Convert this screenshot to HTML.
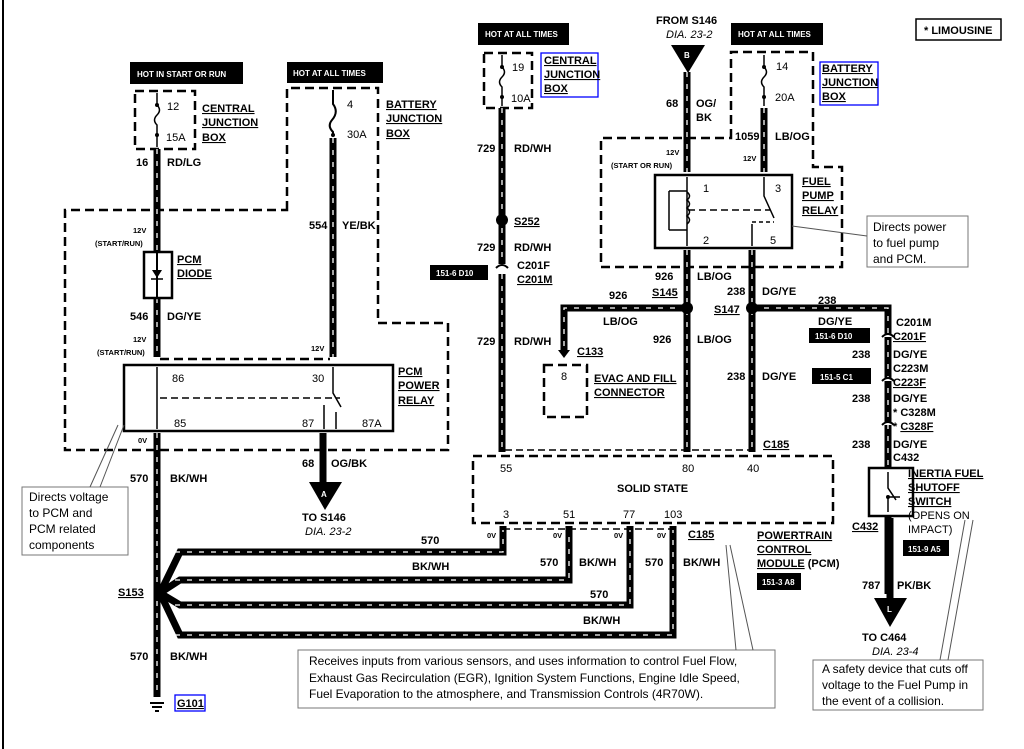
<!DOCTYPE html>
<html><head><meta charset="utf-8"><style>
html,body{margin:0;padding:0;background:#fff;}
svg{display:block;font-family:"Liberation Sans",sans-serif;}
.w{stroke:#000;stroke-width:7;fill:none;}
.wd{stroke:#fff;stroke-width:1.3;fill:none;stroke-dasharray:5 7;}
.d{stroke:#000;stroke-width:2.5;fill:none;stroke-dasharray:9 5;}
.t{font-size:11px;font-weight:bold;}
.n{font-size:11px;}
.s{font-size:7.5px;font-weight:bold;}
.lb{font-size:8px;font-weight:bold;fill:#fff;}
.c{font-size:12px;}
.u{text-decoration:underline;}
</style></head><body>
<svg width="1024" height="749" viewBox="0 0 1024 749" xmlns="http://www.w3.org/2000/svg">
<rect width="1024" height="749" fill="#fff"/>
<line x1="3" y1="0" x2="3" y2="749" stroke="#000" stroke-width="2"/>

<!-- LEFT SECTION -->
<rect x="130" y="62" width="113" height="22" fill="#000"/>
<text x="137" y="77" class="lb">HOT IN START OR RUN</text>
<rect x="287" y="62" width="96" height="21" fill="#000"/>
<text x="293" y="76" class="lb">HOT AT ALL TIMES</text>
<rect x="135" y="91" width="60" height="58" class="d"/>
<path d="M157 93 V105 q5 5 0 10 q-5 5 0 10 V147" stroke="#000" stroke-width="1.5" fill="none"/>
<circle cx="157" cy="105" r="2"/><circle cx="157" cy="135" r="2"/>
<text x="167" y="110" class="n">12</text><text x="166" y="141" class="n">15A</text>
<text x="202" y="112" class="t u">CENTRAL</text><text x="202" y="126" class="t u">JUNCTION</text><text x="202" y="141" class="t u">BOX</text>
<path d="M287 210 V88 H378 V323 H448 V450 H65 V210 Z" class="d"/>
<path d="M333 90 V104 q6 8 -1 16 q-5 6 1 12 V135" stroke="#000" stroke-width="2" fill="none"/>
<circle cx="333" cy="135" r="2"/>
<text x="347" y="108" class="n">4</text><text x="347" y="138" class="n">30A</text>
<text x="386" y="108" class="t u">BATTERY</text><text x="386" y="122" class="t u">JUNCTION</text><text x="386" y="137" class="t u">BOX</text>
<path d="M157 149 V252 M157 298 V357" class="w"/><path d="M157 149 V252 M157 298 V357" class="wd"/>
<path d="M333 138 V357" class="w"/><path d="M333 138 V357" class="wd"/>
<text x="136" y="166" class="t">16</text><text x="167" y="166" class="t">RD/LG</text>
<text x="309" y="229" class="t">554</text><text x="342" y="229" class="t">YE/BK</text>
<text x="133" y="233" class="s">12V</text><text x="95" y="246" class="s">(START/RUN)</text>
<rect x="144" y="252" width="28" height="46" fill="none" stroke="#000" stroke-width="2.5"/>
<line x1="157" y1="252" x2="157" y2="298" stroke="#000" stroke-width="2"/>
<path d="M152 270 h10 l-5 8 z"/><line x1="151" y1="279" x2="163" y2="279" stroke="#000" stroke-width="1.5"/>
<text x="177" y="263" class="t u">PCM</text><text x="177" y="277" class="t u">DIODE</text>
<text x="130" y="320" class="t">546</text><text x="167" y="320" class="t">DG/YE</text>
<text x="133" y="342" class="s">12V</text><text x="97" y="355" class="s">(START/RUN)</text>
<text x="311" y="351" class="s">12V</text>
<line x1="160" y1="359" x2="330" y2="359" class="d" stroke-width="2"/>
<rect x="124" y="365" width="269" height="66" fill="none" stroke="#000" stroke-width="2.5"/>
<path d="M157 367 V429 M333 367 V393 l8 14 M324 405 V429 M336 412 V429" stroke="#000" stroke-width="1.5" fill="none"/>
<line x1="160" y1="398" x2="340" y2="398" stroke="#000" stroke-width="1.5" stroke-dasharray="7 4"/>
<text x="172" y="382" class="n">86</text><text x="312" y="382" class="n">30</text>
<text x="174" y="427" class="n">85</text><text x="302" y="427" class="n">87</text><text x="362" y="427" class="n">87A</text>
<text x="398" y="375" class="t u">PCM</text><text x="398" y="389" class="t u">POWER</text><text x="398" y="404" class="t u">RELAY</text>
<text x="138" y="443" class="s">0V</text>
<path d="M157 433 V697" class="w"/><path d="M157 433 V697" class="wd"/>
<path d="M323 433 V484" class="w"/>
<path d="M309 482 H342 L325 510 Z"/><text x="321" y="497" class="lb">A</text>
<text x="302" y="467" class="t">68</text><text x="331" y="467" class="t">OG/BK</text>
<text x="302" y="521" class="t">TO S146</text><text x="305" y="535" class="n" font-style="italic">DIA. 23-2</text>
<text x="130" y="482" class="t">570</text><text x="170" y="482" class="t">BK/WH</text>
<text x="118" y="596" class="t u">S153</text>
<text x="130" y="660" class="t">570</text><text x="170" y="660" class="t">BK/WH</text>
<path d="M150 703 h14 M152 707 h10 M155 711 h4" stroke="#000" stroke-width="2"/>
<rect x="175" y="695" width="30" height="16" fill="none" stroke="#00f" stroke-width="1.3"/>
<text x="177" y="707" class="t u">G101</text>
<rect x="22" y="487" width="106" height="68" fill="#fff" stroke="#777"/>
<path d="M90 487 L118 425 M100 487 L124 425" stroke="#555" stroke-width="1"/>
<text x="29" y="501" class="c">Directs voltage</text><text x="29" y="517" class="c">to PCM and</text><text x="29" y="533" class="c">PCM related</text><text x="29" y="549" class="c">components</text>

<!-- GROUND FAN -->
<path d="M160 593 L180 552 H503 V526 M160 593 L180 580 H569 V526 M160 593 L180 605 H630 V526 M160 593 L180 635 H673 V526" class="w"/>
<path d="M175 552 H503 V530 M175 580 H569 V530 M175 605 H630 V530 M175 635 H673 V530" class="wd"/>
<circle cx="160" cy="593" r="6"/>
<text x="487" y="538" class="s">0V</text><text x="553" y="538" class="s">0V</text><text x="614" y="538" class="s">0V</text><text x="657" y="538" class="s">0V</text>
<text x="421" y="544" class="t">570</text><text x="412" y="570" class="t">BK/WH</text>
<text x="540" y="566" class="t">570</text><text x="579" y="566" class="t">BK/WH</text>
<text x="645" y="566" class="t">570</text><text x="683" y="566" class="t">BK/WH</text>
<text x="590" y="598" class="t">570</text><text x="583" y="624" class="t">BK/WH</text>
<text x="688" y="538" class="t u">C185</text>

<!-- PCM -->
<rect x="473" y="456" width="360" height="67" class="d"/>
<line x1="503" y1="529" x2="673" y2="529" stroke="#000" stroke-width="1.5" stroke-dasharray="7 4"/>
<text x="500" y="472" class="n">55</text><text x="682" y="472" class="n">80</text><text x="747" y="472" class="n">40</text>
<text x="617" y="492" class="t">SOLID STATE</text>
<text x="503" y="518" class="n">3</text><text x="563" y="518" class="n">51</text><text x="623" y="518" class="n">77</text><text x="664" y="518" class="n">103</text>
<text x="757" y="539" class="t u">POWERTRAIN</text><text x="757" y="553" class="t u">CONTROL</text><text x="757" y="567" class="t"><tspan class="u">MODULE</tspan> (PCM)</text>
<rect x="757" y="573" width="44" height="17" fill="#000"/><text x="762" y="585" class="lb">151-3 A8</text>
<rect x="298" y="650" width="477" height="58" fill="#fff" stroke="#777"/>
<path d="M736 650 L726 545 M753 650 L730 545" stroke="#555"/>
<text x="309" y="665" class="c">Receives inputs from various sensors, and uses information to control Fuel Flow,</text>
<text x="309" y="682" class="c">Exhaust Gas Recirculation (EGR), Ignition System Functions, Engine Idle Speed,</text>
<text x="309" y="698" class="c">Fuel Evaporation to the atmosphere, and Transmission Controls (4R70W).</text>

<!-- MIDDLE: 729 -->
<rect x="478" y="23" width="91" height="22" fill="#000"/><text x="485" y="37" class="lb">HOT AT ALL TIMES</text>
<rect x="484" y="53" width="48" height="55" class="d"/>
<path d="M502 55 V67 q5 5 0 10 q-5 5 0 10 V106" stroke="#000" stroke-width="1.5" fill="none"/>
<circle cx="502" cy="67" r="2"/><circle cx="502" cy="97" r="2"/>
<text x="512" y="71" class="n">19</text><text x="511" y="102" class="n">10A</text>
<rect x="541" y="53" width="57" height="44" fill="none" stroke="#00f" stroke-width="1.3"/>
<text x="544" y="64" class="t u">CENTRAL</text><text x="544" y="78" class="t u">JUNCTION</text><text x="544" y="92" class="t u">BOX</text>
<path d="M502 108 V264 M502 274 V452" class="w"/><path d="M502 108 V264 M502 274 V452" class="wd"/>
<path d="M496 268 q6 -6 12 0" stroke="#000" stroke-width="2" fill="none"/>
<circle cx="502" cy="220" r="6"/>
<text x="477" y="152" class="t">729</text><text x="514" y="152" class="t">RD/WH</text>
<text x="514" y="225" class="t u">S252</text>
<text x="477" y="251" class="t">729</text><text x="514" y="251" class="t">RD/WH</text>
<text x="517" y="269" class="t">C201F</text><text x="517" y="283" class="t u">C201M</text>
<rect x="430" y="265" width="58" height="15" fill="#000"/><text x="436" y="276" class="lb">151-6 D10</text>
<text x="477" y="345" class="t">729</text><text x="514" y="345" class="t">RD/WH</text>
<line x1="505" y1="450" x2="750" y2="450" stroke="#000" stroke-width="1.5" stroke-dasharray="7 4"/>

<!-- FUEL PUMP RELAY AREA -->
<text x="656" y="24" class="t">FROM S146</text><text x="666" y="38" class="n" font-style="italic">DIA. 23-2</text>
<path d="M671 45 H705 L688 73 Z"/><text x="684" y="58" class="lb">B</text>
<rect x="731" y="23" width="92" height="22" fill="#000"/><text x="738" y="37" class="lb">HOT AT ALL TIMES</text>
<rect x="916" y="19" width="85" height="21" fill="#fff" stroke="#000" stroke-width="1.5"/>
<text x="924" y="34" class="t">* LIMOUSINE</text>
<path d="M731 138 V52 H813 V167 H842 V267 H601 V138 Z" class="d"/>
<path d="M764 55 V67 q5 5 0 10 q-5 5 0 10 V106" stroke="#000" stroke-width="1.5" fill="none"/>
<circle cx="764" cy="67" r="2"/><circle cx="764" cy="97" r="2"/>
<text x="776" y="70" class="n">14</text><text x="775" y="101" class="n">20A</text>
<rect x="820" y="62" width="58" height="43" fill="none" stroke="#00f" stroke-width="1.3"/>
<text x="822" y="72" class="t u">BATTERY</text><text x="822" y="86" class="t u">JUNCTION</text><text x="822" y="100" class="t u">BOX</text>
<path d="M687 72 V172 M764 108 V172" class="w"/><path d="M687 72 V172 M764 108 V172" class="wd"/>
<text x="666" y="107" class="t">68</text><text x="696" y="107" class="t">OG/</text><text x="696" y="121" class="t">BK</text>
<text x="735" y="140" class="t">1059</text><text x="775" y="140" class="t">LB/OG</text>
<text x="666" y="155" class="s">12V</text><text x="611" y="168" class="s">(START OR RUN)</text>
<text x="743" y="161" class="s">12V</text>
<rect x="655" y="175" width="137" height="73" fill="none" stroke="#000" stroke-width="2.5"/>
<path d="M687 177 V246 M764 177 V196 l10 22 M752 246 V224 M669 191 H687 M669 230 H687" stroke="#000" stroke-width="1.5" fill="none"/>
<path d="M669 191 V230" stroke="#000" stroke-width="1.5"/>
<path d="M687 192 q5 4 0 8 q5 4 0 8 q5 4 0 8 q5 4 0 8" stroke="#000" stroke-width="1.5" fill="none"/>
<line x1="688" y1="210" x2="770" y2="210" stroke="#000" stroke-width="1.5" stroke-dasharray="7 4"/>
<line x1="752" y1="222" x2="774" y2="222" stroke="#000" stroke-width="1.5" stroke-dasharray="4 3"/>
<text x="703" y="192" class="n">1</text><text x="775" y="192" class="n">3</text>
<text x="703" y="244" class="n">2</text><text x="770" y="244" class="n">5</text>
<text x="802" y="185" class="t u">FUEL</text><text x="802" y="199" class="t u">PUMP</text><text x="802" y="214" class="t u">RELAY</text>
<rect x="867" y="216" width="101" height="51" fill="#fff" stroke="#777"/>
<path d="M792 226 L867 236" stroke="#555"/>
<text x="873" y="231" class="c">Directs power</text><text x="873" y="247" class="c">to fuel pump</text><text x="873" y="263" class="c">and PCM.</text>
<path d="M687 250 V452 M752 250 V452" class="w"/><path d="M687 250 V452 M752 250 V452" class="wd"/>
<path d="M687 308 H564 V352 M752 308 H888 V594" class="w"/><path d="M687 308 H564 V350 M752 308 H888 V594" class="wd"/>
<path d="M558 350 h12 l-6 8 z"/>
<circle cx="687" cy="308" r="6"/><circle cx="752" cy="308" r="6"/>
<text x="655" y="280" class="t">926</text><text x="697" y="280" class="t">LB/OG</text>
<text x="609" y="299" class="t">926</text><text x="652" y="296" class="t u">S145</text>
<text x="603" y="325" class="t">LB/OG</text>
<text x="727" y="295" class="t">238</text><text x="762" y="295" class="t">DG/YE</text>
<text x="714" y="313" class="t u">S147</text>
<text x="818" y="304" class="t">238</text><text x="818" y="325" class="t">DG/YE</text>
<text x="653" y="343" class="t">926</text><text x="697" y="343" class="t">LB/OG</text>
<text x="727" y="380" class="t">238</text><text x="762" y="380" class="t">DG/YE</text>
<text x="577" y="355" class="t u">C133</text>
<rect x="544" y="365" width="43" height="52" class="d"/>
<text x="561" y="380" class="n">8</text>
<text x="594" y="382" class="t u">EVAC AND FILL</text><text x="594" y="396" class="t u">CONNECTOR</text>
<text x="763" y="448" class="t u">C185</text>
<rect x="809" y="328" width="61" height="15" fill="#000"/><text x="815" y="339" class="lb">151-6 D10</text>
<rect x="812" y="368" width="59" height="16" fill="#000"/><text x="820" y="380" class="lb">151-5 C1</text>
<text x="896" y="326" class="t">C201M</text><text x="893" y="340" class="t u">C201F</text>
<text x="852" y="358" class="t">238</text><text x="893" y="358" class="t">DG/YE</text>
<text x="893" y="372" class="t">C223M</text><text x="893" y="386" class="t u">C223F</text>
<text x="852" y="402" class="t">238</text><text x="893" y="402" class="t">DG/YE</text>
<text x="893" y="416" class="t">* C328M</text><text x="893" y="430" class="t">* <tspan class="u">C328F</tspan></text>
<text x="852" y="448" class="t">238</text><text x="893" y="448" class="t">DG/YE</text>
<text x="893" y="461" class="t">C432</text>
<path d="M882 337 q6 -6 12 0 M882 381 q6 -6 12 0 M882 425 q6 -6 12 0" stroke="#000" stroke-width="2" fill="#fff"/>
<rect x="869" y="468" width="44" height="48" fill="#fff" stroke="#000" stroke-width="2.5"/>
<path d="M888 472 V488 l8 12 M888 497 V512 M888 497 h12" stroke="#000" stroke-width="1.5" fill="none"/>
<circle cx="888" cy="497" r="2"/>
<text x="908" y="477" class="t u">INERTIA FUEL</text><text x="908" y="491" class="t u">SHUTOFF</text><text x="908" y="505" class="t u">SWITCH</text>
<text x="908" y="519" class="n">(OPENS ON</text><text x="908" y="533" class="n">IMPACT)</text>
<text x="852" y="530" class="t u">C432</text>
<rect x="903" y="540" width="46" height="16" fill="#000"/><text x="908" y="552" class="lb">151-9 A5</text>
<path d="M890 518 V600" class="w"/>
<text x="862" y="589" class="t">787</text><text x="897" y="589" class="t">PK/BK</text>
<path d="M874 598 H907 L890 627 Z"/><text x="887" y="612" class="lb">L</text>
<text x="862" y="641" class="t">TO C464</text><text x="872" y="655" class="n" font-style="italic">DIA. 23-4</text>
<rect x="813" y="660" width="170" height="50" fill="#fff" stroke="#777"/>
<path d="M940 660 L965 520 M948 660 L973 520" stroke="#555"/>
<text x="822" y="673" class="c">A safety device that cuts off</text>
<text x="822" y="689" class="c">voltage to the Fuel Pump in</text>
<text x="822" y="705" class="c">the event of a collision.</text>
</svg>
</body></html>
